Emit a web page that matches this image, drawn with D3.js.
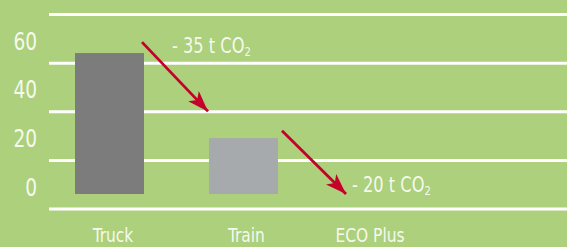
<!DOCTYPE html>
<html>
<head>
<meta charset="utf-8">
<script src="https://cdn.jsdelivr.net/npm/d3@7"></script>
<style>
  html, body { margin: 0; padding: 0; background: #acd07b; }
  svg { display: block; }
  text { font-family: "DejaVu Sans Condensed", "DejaVu Sans", sans-serif; fill: #f6f9ee; }
</style>
</head>
<body>
<script>
// chart data
var categories = ["Truck", "Train", "ECO Plus"];
var values = [58, 23, null];          // ECO Plus has no bar
var barColors = ["#7c7c7c", "#a7aaac", "none"];
var yTicks = [0, 20, 40, 60];
var gridTicks = [0, 20, 40, 60, 80];
// arrows between categories, start/end given in value units
var arrowFrom = ["Truck", "Train"];
var arrowTo = ["Train", "ECO Plus"];
var arrowStartVal = [62.5, 26];
var arrowEndVal = [34, 0];
var arrowLabels = ["- 35 t CO", "- 20 t CO"];

var w = 567, h = 247;
var squeeze = 0.86; // font is a bit wider than the original's, squash it

var svg = d3.select("body").append("svg")
  .attr("width", w)
  .attr("height", h);

svg.append("rect")
  .attr("x", 0).attr("y", 0).attr("width", w).attr("height", h)
  .style("fill", "#acd07b");

// scales
var y = d3.scaleLinear().domain([0, 60]).range([194, 194 - 60 * 2.43]);
var x = d3.scaleBand().domain(categories).range([75, 412])
  .paddingInner(65 / 134).paddingOuter(0);
var xLab = d3.scalePoint().domain(categories).range([113, 370]);

var place = function(px, py) {
  return "translate(" + px + "," + py + ") scale(" + squeeze + ",1)";
};

// grid lines (sit a bit below the tick values, as in the original)
svg.selectAll(".grid")
  .data(gridTicks)
  .enter().append("line")
  .attr("class", "grid")
  .attr("x1", 49).attr("x2", w)
  .attr("y1", function(d) { return y(d) + 15; })
  .attr("y2", function(d) { return y(d) + 15; })
  .style("stroke", "#ffffff")
  .style("stroke-width", 3);

// y tick labels
svg.selectAll(".ytick")
  .data(yTicks)
  .enter().append("text")
  .attr("class", "ytick")
  .attr("transform", function(d) { return place(37, y(d) + 1.5); })
  .attr("text-anchor", "end")
  .style("font-size", "24px")
  .text(function(d) { return d; });

// bars
svg.selectAll(".bar")
  .data(categories.filter(function(c, i) { return values[i] != null; }))
  .enter().append("rect")
  .attr("class", "bar")
  .attr("x", function(d) { return x(d); })
  .attr("width", x.bandwidth())
  .attr("y", function(d) { return y(values[categories.indexOf(d)]); })
  .attr("height", function(d) { return y(0) - y(values[categories.indexOf(d)]); })
  .style("fill", function(d) { return barColors[categories.indexOf(d)]; });

// category labels
svg.selectAll(".xlab")
  .data(categories)
  .enter().append("text")
  .attr("class", "xlab")
  .attr("transform", function(d, i) { return place(xLab(d) + (i == 1 ? 5 : 0), 242); })
  .attr("text-anchor", "middle")
  .style("font-size", "20px")
  .text(function(d) { return d; });

// arrow head
svg.append("defs").append("marker")
  .attr("id", "head")
  .attr("viewBox", "0 0 10 7")
  .attr("refX", 10).attr("refY", 3.5)
  .attr("markerWidth", 7.5).attr("markerHeight", 5.25)
  .attr("markerUnits", "strokeWidth")
  .attr("orient", "auto")
  .append("path")
  .attr("d", "M0,0 L10,3.5 L0,7 L2.5,3.5 Z")
  .style("fill", "#c4002b");

for (var i = 0; i < arrowFrom.length; i++) {
  var x1 = x(arrowFrom[i]) + x.bandwidth() + (i == 0 ? -2 : 4);
  var x2 = x(arrowTo[i]) + (i == 0 ? -1 : 3);
  var y1 = y(arrowStartVal[i]);
  var y2 = y(arrowEndVal[i]);
  svg.append("line")
    .attr("x1", x1).attr("y1", y1)
    .attr("x2", x2).attr("y2", y2)
    .style("stroke", "#c4002b")
    .style("stroke-width", 2.8)
    .attr("marker-end", "url(#head)");

  // label: first one sits right of the arrow start, second one right of the tip
  var lx = i == 0 ? x1 + 30 : x2 + 6;
  var ly = i == 0 ? y1 + 11 : y2 - 2;
  var t = svg.append("text")
    .attr("transform", place(lx, ly))
    .style("font-size", "21px")
    .text(arrowLabels[i]);
  t.append("tspan")
    .attr("dy", 3)
    .style("font-size", "13px")
    .text("2");
}
</script>
</body>
</html>
